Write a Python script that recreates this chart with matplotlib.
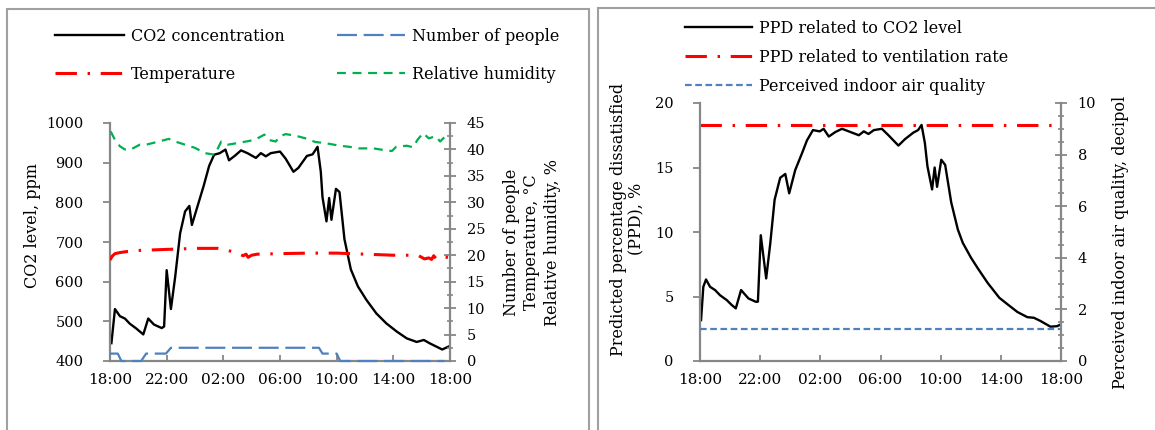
import numpy as np
import matplotlib
matplotlib.use("Agg")
import matplotlib.pyplot as plt
from matplotlib.patches import Rectangle
from matplotlib.ticker import MultipleLocator

plt.rcParams["font.family"] = ["DejaVu Serif"]

# hours after 18:00
co2_t = [0.1, 0.35, 0.7, 1.05, 1.4, 1.85, 2.35, 2.7, 3.1, 3.65, 3.82, 4.0, 4.3, 4.6, 4.95,
         5.3, 5.6, 5.78, 6.1, 6.6, 7.0, 7.35, 7.75, 8.15, 8.4, 8.8, 9.25, 9.7, 10.3, 10.65,
         11.0, 11.35, 12.0, 12.4, 12.95, 13.3, 13.9, 14.3, 14.65, 14.88, 15.0, 15.28, 15.47,
         15.63, 15.95, 16.2, 16.55, 17.0, 17.5, 18.1, 18.8, 19.5, 20.25, 20.95, 21.65, 22.15,
         22.6, 23.45, 24.0]
co2_ppm = [445, 531, 513, 507, 494, 482, 467, 507, 492, 483, 487, 629, 531, 612, 722,
           777, 791, 743, 781, 840, 892, 920, 924, 933, 906, 917, 931, 924, 912, 924,
           916, 924, 928, 910, 877, 887, 917, 921, 940, 877, 813, 752, 811,
           756, 834, 826, 707, 631, 588, 554, 520, 495, 474, 457, 448, 453,
           444, 429, 438]

temp_t = [0, 0.15, 0.35, 0.7, 1.2, 2.0, 3.0, 4.0, 5.0, 6.2, 7.6, 8.2, 8.6, 9.0, 9.4, 9.6,
          9.75, 10.0, 10.4, 12.0, 14.0, 16.0, 17.0, 18.0, 19.0, 20.0, 21.0, 21.8, 22.2,
          22.5, 22.7, 22.85, 23.0, 23.2, 23.4, 23.6, 24]
temp_c = [19.1, 19.8, 20.3, 20.5, 20.7, 20.9, 21.0, 21.1, 21.2, 21.3, 21.3, 21.0, 20.7, 20.4,
          19.9, 20.2, 19.6, 20.0, 20.2, 20.3, 20.4, 20.4, 20.3, 20.2, 20.1, 20.0, 20.0, 19.9,
          19.3, 19.5, 19.2, 19.9, 19.4, 19.6, 19.4, 19.7, 19.5]

rh_t = [0.05, 0.35, 0.7, 1.05, 1.4, 2.1, 2.55, 3.0, 3.45, 4.15, 4.6, 5.3, 6.0, 6.7, 7.4,
        7.85, 8.3, 9.0, 9.6, 10.2, 10.9, 11.2, 11.7, 12.0, 12.4, 13.1, 13.8, 14.5, 15.2,
        16.2, 16.9, 17.6, 18.6, 19.3, 19.9, 20.2, 20.95, 21.4, 21.7, 22.1, 22.5, 23.0,
        23.3, 23.6, 24.0]
rh_pct = [43.4, 41.8, 40.6, 40.0, 39.9, 40.9, 40.9, 41.2, 41.5, 42.0, 41.5, 40.9, 40.3, 39.3,
          39.0, 41.5, 40.9, 41.2, 41.5, 41.8, 42.8, 41.8, 41.5, 42.5, 42.9, 42.6, 42.1, 41.4,
          41.2, 40.7, 40.5, 40.2, 40.2, 39.9, 39.7, 40.5, 40.7, 40.4, 41.8, 43.1, 42.1, 42.5,
          41.5, 42.3, 41.8]

people_t = [0, 0.55, 0.8, 2.2, 2.55, 3.95, 4.3, 14.75, 15.0, 16.0, 16.25, 23.6]
people_n = [1.4, 1.4, 0, 0, 1.4, 1.4, 2.5, 2.5, 1.4, 1.4, 0, 0]

ppd_t = [0.07, 0.22, 0.4, 0.67, 1.0, 1.33, 1.78, 2.11, 2.38, 2.73, 3.22, 3.71, 3.85, 4.04,
         4.4, 4.67, 4.96, 5.33, 5.67, 5.93, 6.33, 6.78, 7.11, 7.51, 7.96, 8.22, 8.56, 9.0,
         9.44, 9.89, 10.56, 10.89, 11.2, 11.56, 12.09, 12.53, 13.19, 13.63, 14.18, 14.5,
         14.73, 14.95, 15.12, 15.43, 15.6, 15.76, 16.04, 16.3, 16.7, 17.14, 17.47, 18.02,
         18.46, 19.12, 19.9, 20.44, 21.1, 21.76, 22.2, 22.64, 23.3, 23.74, 24.0]
ppd_co2 = [3.17, 5.75, 6.32, 5.75, 5.5, 5.1, 4.72, 4.34, 4.08, 5.5, 4.85, 4.59, 4.6, 9.75,
           6.4, 9.1, 12.5, 14.2, 14.5, 13.0, 14.8, 16.1, 17.1, 17.9, 17.8, 18.0, 17.4, 17.75,
           18.0, 17.8, 17.5, 17.8, 17.6, 17.9, 18.0, 17.5, 16.7, 17.2, 17.7, 17.9,
           18.3, 16.9, 15.1, 13.3, 15.0, 13.5, 15.6, 15.2, 12.3, 10.2, 9.16, 8.0,
           7.2, 6.06, 4.9, 4.4, 3.8, 3.4, 3.35, 3.1, 2.66, 2.7, 2.84]

ppd_vent = 18.3
iaq_decipol = 1.25

hour_ticks = [0, 4, 8, 12, 16, 20, 24]
hour_labels = ["18:00", "22:00", "02:00", "06:00", "10:00", "14:00", "18:00"]

GRAY = "#878787"
BLUE = "#4f81bd"
RED = "#ff0000"
GREEN = "#00b050"
W, H = 1155, 430


def style_axes(ax):
    for s in ["top", "right"]:
        ax.spines[s].set_visible(False)
    for s in ["left", "bottom"]:
        ax.spines[s].set_color(GRAY)
        ax.spines[s].set_linewidth(1.6)
    ax.set_xlim(0, 24)
    ax.set_xticks(hour_ticks)
    ax.set_xticklabels(hour_labels)
    ax.tick_params(axis="x", direction="in", length=4, width=1.3, color=GRAY, pad=9, labelsize=11)
    ax.tick_params(axis="y", direction="out", length=5, width=1.3, color=GRAY, pad=14, labelsize=10.5)


def style_twin(ax):
    for s in ["top", "left", "bottom"]:
        ax.spines[s].set_visible(False)
    ax.spines["right"].set_color(GRAY)
    ax.spines["right"].set_linewidth(1.6)
    ax.tick_params(axis="y", which="major", direction="inout", length=8, width=1.3, color=GRAY, pad=8, labelsize=10.5)
    ax.tick_params(axis="y", which="minor", direction="inout", length=5, width=1.2, color=GRAY)


fig = plt.figure(figsize=(W / 100, H / 100), dpi=100)

# panel frames
fig.add_artist(Rectangle((7 / W, -0.1), 582 / W, 1.1 - 9 / H, transform=fig.transFigure,
                         fill=False, edgecolor="#a0a0a0", linewidth=1.5))
fig.add_artist(Rectangle((598 / W, -0.1), 0.6, 1.1 - 8 / H, transform=fig.transFigure,
                         fill=False, edgecolor="#a0a0a0", linewidth=1.5))

# left panel
ax1 = fig.add_axes([110 / W, 69 / H, 340 / W, 238 / H])
style_axes(ax1)
ax1.set_ylim(400, 1000)
ax1.yaxis.set_major_locator(MultipleLocator(100))
l_co2, = ax1.plot(co2_t, co2_ppm, color="black", lw=1.7, label="CO2 concentration")
ax1.set_ylabel("CO2 level, ppm", fontsize=11.5)
ax1.yaxis.set_label_coords(-0.203, 0.57)

ax1r = ax1.twinx()
style_twin(ax1r)
ax1r.set_ylim(0, 45)
ax1r.yaxis.set_major_locator(MultipleLocator(5))
ax1r.yaxis.set_minor_locator(MultipleLocator(2.5))
l_temp, = ax1r.plot(temp_t, temp_c, color=RED, lw=2.2, dashes=(7, 3.5, 0.8, 3.5), label="Temperature")
l_ppl, = ax1r.plot(people_t, people_n, color=BLUE, lw=1.6, dashes=(9, 3), clip_on=False,
                   label="Number of people")
l_rh, = ax1r.plot(rh_t, rh_pct, color=GREEN, lw=1.6, dashes=(4, 3), label="Relative humidity")
ax1r.set_ylabel("Number of people\nTemperature, \u00b0C\nRelative humidity, %", fontsize=11.5,
                multialignment="center", linespacing=1.25)
ax1r.yaxis.set_label_coords(1.156, 0.5)

fig.legend(handles=[l_co2, l_temp, l_ppl, l_rh], ncol=2, loc="upper left",
           bbox_to_anchor=(55 / W, 1 - 28 / H), frameon=False, fontsize=11.5,
           handlelength=4.3, handletextpad=0.45, columnspacing=3.25, labelspacing=1.3,
           borderpad=0, borderaxespad=0)

# right panel
ax2 = fig.add_axes([700 / W, 69 / H, 361 / W, 258 / H])
style_axes(ax2)
ax2.set_ylim(0, 20)
ax2.yaxis.set_major_locator(MultipleLocator(5))
l_ppd, = ax2.plot(ppd_t, ppd_co2, color="black", lw=1.7, label="PPD related to CO2 level")
l_vent = ax2.axhline(ppd_vent, color=RED, lw=2.2, dashes=(7, 3.5, 0.8, 3.5),
                     label="PPD related to ventilation rate")
ax2.set_ylabel("Predicted percentage dissatisfied\n(PPD), %", fontsize=11.5, linespacing=1.05)
ax2.yaxis.set_label_coords(-0.152, 0.55)

ax2r = ax2.twinx()
style_twin(ax2r)
ax2r.set_ylim(0, 10)
ax2r.yaxis.set_major_locator(MultipleLocator(2))
ax2r.yaxis.set_minor_locator(MultipleLocator(0.5))
l_iaq = ax2r.axhline(iaq_decipol, color=BLUE, lw=1.6, dashes=(3, 1.6),
                     label="Perceived indoor air quality")
ax2r.set_ylabel("Perceived indoor air quality, decipol", fontsize=11.5)
ax2r.yaxis.set_label_coords(1.141, 0.46)

fig.legend(handles=[l_ppd, l_vent, l_iaq], ncol=1, loc="upper left",
           bbox_to_anchor=(685 / W, 1 - 20 / H), frameon=False, fontsize=11.5,
           handlelength=4.2, handletextpad=0.45, labelspacing=0.75,
           borderpad=0, borderaxespad=0)

fig.savefig("out.png", dpi=100)
